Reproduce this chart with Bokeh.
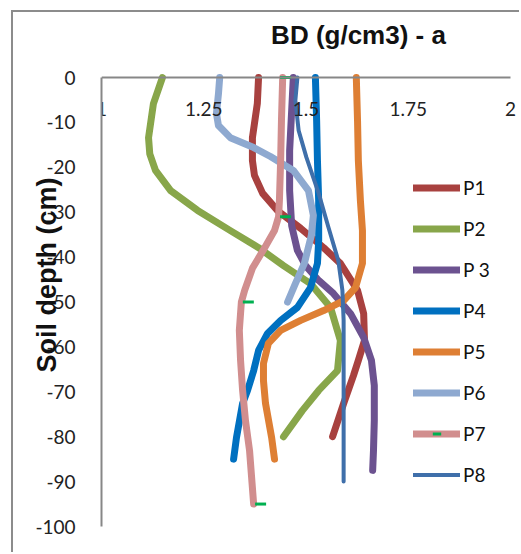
from bokeh.plotting import figure
from bokeh.models import Range1d, FixedTicker, Legend, LegendItem, Title, Label
from bokeh.embed import file_html
from bokeh.resources import INLINE

# ---- data ----
series_names = ["P1", "P2", "P 3", "P4", "P5", "P6", "P7", "P8"]

P1_depth = [0, -5.8, -13.4, -18.5, -21.8, -25.8, -29.6, -33.6, -37.9, -41.4, -47.4, -52.6, -58.6, -63.0, -66.4, -72.6, -80]
P1_bd = [1.384, 1.381, 1.369, 1.369, 1.374, 1.394, 1.430, 1.487, 1.543, 1.584, 1.626, 1.641, 1.643, 1.628, 1.616, 1.592, 1.565]

P2_depth = [0, -5.8, -13.4, -17.0, -20.7, -25.2, -29.6, -34.1, -37.9, -41.9, -45.9, -51.2, -58.6, -65.3, -69.7, -74.2, -80]
P2_bd = [1.149, 1.127, 1.115, 1.118, 1.132, 1.169, 1.235, 1.315, 1.384, 1.445, 1.511, 1.560, 1.584, 1.577, 1.531, 1.491, 1.445]

P3_depth = [0, -7.3, -16.3, -25.2, -33.0, -38.5, -41.9, -45.2, -48.1, -52.6, -57.9, -63.0, -68.6, -76.4, -83.1, -87.5]
P3_bd = [1.469, 1.465, 1.460, 1.460, 1.465, 1.479, 1.499, 1.531, 1.567, 1.609, 1.641, 1.660, 1.667, 1.667, 1.665, 1.663]

P4_depth = [0, -9.6, -18.5, -27.4, -36.3, -41.4, -46.8, -51.2, -54.1, -57.0, -60.8, -65.3, -69.7, -72.6, -80.2, -85]
P4_bd = [1.523, 1.526, 1.528, 1.531, 1.531, 1.528, 1.511, 1.479, 1.438, 1.406, 1.384, 1.372, 1.357, 1.345, 1.330, 1.323]

P5_depth = [0, -9.6, -18.5, -27.4, -34.1, -41.4, -46.8, -49.7, -51.9, -54.1, -56.3, -59.2, -63.7, -67.5, -72.6, -80.2, -85]
P5_bd = [1.623, 1.626, 1.628, 1.633, 1.638, 1.638, 1.621, 1.592, 1.543, 1.487, 1.438, 1.408, 1.396, 1.396, 1.401, 1.416, 1.423]

P6_depth = [0, -3.6, -8.0, -10.7, -13.4, -15.6, -17.6, -20.7, -25.2, -30.7, -35.2, -41.4, -45.9, -50]
P6_bd = [1.289, 1.286, 1.281, 1.286, 1.315, 1.372, 1.413, 1.469, 1.506, 1.518, 1.513, 1.496, 1.474, 1.455]

P7_depth = [0, -9.6, -18.5, -27.4, -31, -34.1, -37.9, -42.5, -47.4, -50, -56.3, -63.0, -69.7, -76.4, -83.1, -95]
P7_bd = [1.443, 1.440, 1.438, 1.435, 1.433, 1.423, 1.399, 1.369, 1.350, 1.342, 1.337, 1.340, 1.345, 1.352, 1.362, 1.372]
P7_marker_depth = [0, -31, -50, -95]
P7_marker_bd = [1.450, 1.450, 1.359, 1.389]

P8_depth = [0, -5.1, -11.8, -17.8, -25.8, -33.4, -40.8, -47.4, -54.1, -67.5, -90]
P8_bd = [1.479, 1.474, 1.482, 1.501, 1.531, 1.555, 1.579, 1.589, 1.592, 1.592, 1.592]

x_ticks = [1, 1.25, 1.5, 1.75, 2]
x_tick_labels = ["1", "1.25", "1.5", "1.75", "2"]
y_ticks = [0, -10, -20, -30, -40, -50, -60, -70, -80, -90, -100]
y_tick_labels = ["0", "-10", "-20", "-30", "-40", "-50", "-60", "-70", "-80", "-90", "-100"]

title_text = "BD (g/cm3) - a"
y_label_text = "Soil depth (cm)"

# ---- styling ----
colors = ["#A8413F", "#88A64A", "#6C5290", "#0070C0", "#DE7F34", "#8EA9D0", "#D18E8E", "#3F6FAA"]
widths = [7, 7, 7, 7, 7, 7, 7, 4]

# frame spans page y=12..526 (4.49 px per cm) and page x=101..521 (409 px per unit)
y_top = (77 - 12) / 4.49
x_right = 2 + 11 / 409

p = figure(width=508, height=542, output_backend="svg", toolbar_location=None, title=None,
           x_range=Range1d(1, x_right), y_range=Range1d(-100, y_top), x_axis_location="above",
           min_border_left=88, min_border_right=0, min_border_top=0, min_border_bottom=28)
p.styles = {"margin-left": "11px", "margin-top": "10px",
            "border-left": "2px solid #8C8C8C", "border-top": "2px solid #8C8C8C"}
p.outline_line_color = None
p.grid.visible = False
p.background_fill_color = "white"
p.border_fill_color = "white"

xa = p.xaxis[0]
xa.fixed_location = 0
xa.bounds = (1, 2)
xa.ticker = FixedTicker(ticks=x_ticks)
xa.major_label_overrides = {t: l for t, l in zip(x_ticks, x_tick_labels)}
ya = p.yaxis[0]
ya.bounds = (-100, 0)
ya.ticker = FixedTicker(ticks=y_ticks)
ya.major_label_overrides = {t: l for t, l in zip(y_ticks, y_tick_labels)}
for ax in (xa, ya):
    ax.axis_line_color = "#878787"
    ax.axis_line_width = 2
    ax.major_tick_line_color = None
    ax.minor_tick_line_color = None
    ax.major_label_text_font = "Lato"
    ax.major_label_text_font_size = "19px"
    ax.major_label_text_color = "#222222"
xa.major_label_standoff = -44
ya.major_label_standoff = 20

ylab = Title(text=y_label_text, align="right", offset=165, text_font="Liberation Sans",
             text_font_style="bold", text_font_size="27px", text_color="#111111", standoff=-58)
p.add_layout(ylab, "left")

p.add_layout(Label(x=257, y=492, x_units="screen", y_units="screen", text=title_text,
                   text_font="Liberation Sans", text_font_style="bold", text_font_size="26px",
                   text_align="center", text_baseline="alphabetic", text_color="#111111"))

all_depths = [P1_depth, P2_depth, P3_depth, P4_depth, P5_depth, P6_depth, P7_depth, P8_depth]
all_bd = [P1_bd, P2_bd, P3_bd, P4_bd, P5_bd, P6_bd, P7_bd, P8_bd]

items = []
for i, name in enumerate(series_names):
    r = p.line(all_bd[i], all_depths[i], line_color=colors[i], line_width=widths[i],
               line_cap="round", line_join="round")
    rs = [r]
    if name == "P7":
        m = p.scatter(P7_marker_bd, P7_marker_depth, marker="dash", size=11,
                      line_color="#00B050", line_width=3)
        rs.append(m)
    items.append(LegendItem(label=name, renderers=rs))

legend = Legend(items=items, location=(312, 40), padding=0, margin=0, spacing=18,
                glyph_width=47, glyph_height=21, label_height=21, label_standoff=3,
                border_line_color=None, background_fill_alpha=0,
                label_text_font="Lato", label_text_font_size="19px", label_text_color="#111111")
p.add_layout(legend)

open("out.html", "w").write(file_html(p, INLINE))
